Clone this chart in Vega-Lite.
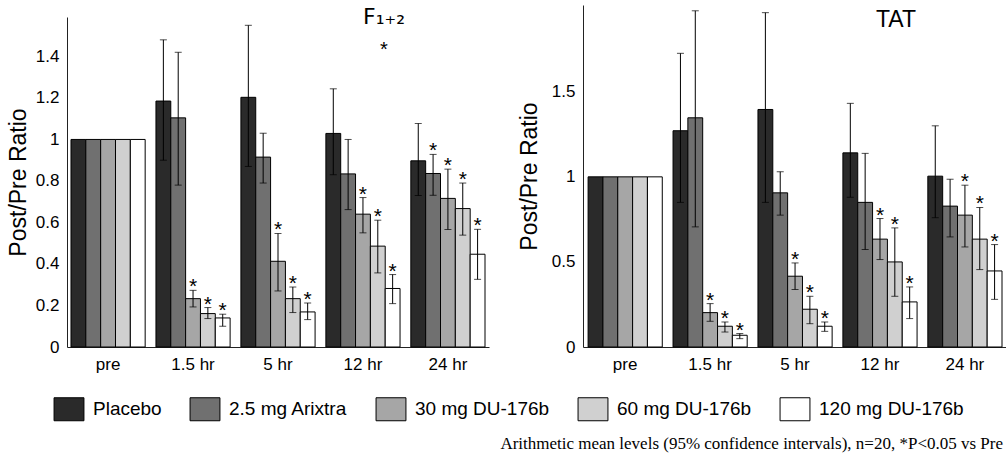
{
  "$schema": "https://vega.github.io/schema/vega-lite/v6.json",
  "padding": {"left": 7, "top": 5, "right": 0, "bottom": 5},
  "config": {
    "view": {"stroke": null},
    "font": "Liberation Sans",
    "axis": {"grid": false, "ticks": false, "domainColor": "#222", "labelColor": "black", "labelFont": "Liberation Sans", "labelFontSize": 17, "titleFont": "Liberation Sans", "titleFontWeight": "normal", "titleColor": "black", "titleFontSize": 23}
  },
  "title": {"text": "Arithmetic mean levels (95% confidence intervals), n=20, *P<0.05 vs Pre", "orient": "bottom", "anchor": "end", "font": "Liberation Serif", "fontSize": 17, "fontWeight": "normal", "color": "black", "offset": 13, "dx": -4},
  "data": {"values": [
    {"p":"F","t":"pre","g":"Placebo","v":1,"lo":null,"hi":null,"s":false},
    {"p":"F","t":"pre","g":"2.5 mg Arixtra","v":1,"lo":null,"hi":null,"s":false},
    {"p":"F","t":"pre","g":"30 mg DU-176b","v":1,"lo":null,"hi":null,"s":false},
    {"p":"F","t":"pre","g":"60 mg DU-176b","v":1,"lo":null,"hi":null,"s":false},
    {"p":"F","t":"pre","g":"120 mg DU-176b","v":1,"lo":null,"hi":null,"s":false},
    {"p":"F","t":"1.5 hr","g":"Placebo","v":1.185,"lo":0.9,"hi":1.48,"s":false},
    {"p":"F","t":"1.5 hr","g":"2.5 mg Arixtra","v":1.104,"lo":0.78,"hi":1.42,"s":false},
    {"p":"F","t":"1.5 hr","g":"30 mg DU-176b","v":0.233,"lo":0.193,"hi":0.273,"s":true},
    {"p":"F","t":"1.5 hr","g":"60 mg DU-176b","v":0.161,"lo":0.137,"hi":0.19,"s":true},
    {"p":"F","t":"1.5 hr","g":"120 mg DU-176b","v":0.14,"lo":0.1,"hi":0.158,"s":true},
    {"p":"F","t":"5 hr","g":"Placebo","v":1.203,"lo":0.87,"hi":1.55,"s":false},
    {"p":"F","t":"5 hr","g":"2.5 mg Arixtra","v":0.915,"lo":0.79,"hi":1.03,"s":false},
    {"p":"F","t":"5 hr","g":"30 mg DU-176b","v":0.413,"lo":0.27,"hi":0.547,"s":true},
    {"p":"F","t":"5 hr","g":"60 mg DU-176b","v":0.233,"lo":0.166,"hi":0.289,"s":true},
    {"p":"F","t":"5 hr","g":"120 mg DU-176b","v":0.169,"lo":0.132,"hi":0.212,"s":true},
    {"p":"F","t":"12 hr","g":"Placebo","v":1.029,"lo":0.83,"hi":1.244,"s":false},
    {"p":"F","t":"12 hr","g":"2.5 mg Arixtra","v":0.834,"lo":0.662,"hi":1.0,"s":false},
    {"p":"F","t":"12 hr","g":"30 mg DU-176b","v":0.64,"lo":0.55,"hi":0.72,"s":true},
    {"p":"F","t":"12 hr","g":"60 mg DU-176b","v":0.486,"lo":0.357,"hi":0.611,"s":true},
    {"p":"F","t":"12 hr","g":"120 mg DU-176b","v":0.282,"lo":0.209,"hi":0.349,"s":true},
    {"p":"F","t":"24 hr","g":"Placebo","v":0.897,"lo":0.73,"hi":1.077,"s":false},
    {"p":"F","t":"24 hr","g":"2.5 mg Arixtra","v":0.836,"lo":0.731,"hi":0.928,"s":true},
    {"p":"F","t":"24 hr","g":"30 mg DU-176b","v":0.716,"lo":0.566,"hi":0.857,"s":true},
    {"p":"F","t":"24 hr","g":"60 mg DU-176b","v":0.667,"lo":0.539,"hi":0.79,"s":true},
    {"p":"F","t":"24 hr","g":"120 mg DU-176b","v":0.447,"lo":0.326,"hi":0.567,"s":true},
    {"p":"T","t":"pre","g":"Placebo","v":1,"lo":null,"hi":null,"s":false},
    {"p":"T","t":"pre","g":"2.5 mg Arixtra","v":1,"lo":null,"hi":null,"s":false},
    {"p":"T","t":"pre","g":"30 mg DU-176b","v":1,"lo":null,"hi":null,"s":false},
    {"p":"T","t":"pre","g":"60 mg DU-176b","v":1,"lo":null,"hi":null,"s":false},
    {"p":"T","t":"pre","g":"120 mg DU-176b","v":1,"lo":null,"hi":null,"s":false},
    {"p":"T","t":"1.5 hr","g":"Placebo","v":1.271,"lo":0.85,"hi":1.726,"s":false},
    {"p":"T","t":"1.5 hr","g":"2.5 mg Arixtra","v":1.347,"lo":0.706,"hi":1.976,"s":false},
    {"p":"T","t":"1.5 hr","g":"30 mg DU-176b","v":0.202,"lo":0.151,"hi":0.255,"s":true},
    {"p":"T","t":"1.5 hr","g":"60 mg DU-176b","v":0.122,"lo":0.088,"hi":0.147,"s":true},
    {"p":"T","t":"1.5 hr","g":"120 mg DU-176b","v":0.069,"lo":0.049,"hi":0.079,"s":true},
    {"p":"T","t":"5 hr","g":"Placebo","v":1.396,"lo":0.85,"hi":1.965,"s":false},
    {"p":"T","t":"5 hr","g":"2.5 mg Arixtra","v":0.906,"lo":0.775,"hi":1.03,"s":false},
    {"p":"T","t":"5 hr","g":"30 mg DU-176b","v":0.416,"lo":0.338,"hi":0.494,"s":true},
    {"p":"T","t":"5 hr","g":"60 mg DU-176b","v":0.222,"lo":0.137,"hi":0.298,"s":true},
    {"p":"T","t":"5 hr","g":"120 mg DU-176b","v":0.122,"lo":0.092,"hi":0.147,"s":true},
    {"p":"T","t":"12 hr","g":"Placebo","v":1.141,"lo":0.88,"hi":1.432,"s":false},
    {"p":"T","t":"12 hr","g":"2.5 mg Arixtra","v":0.85,"lo":0.573,"hi":1.138,"s":false},
    {"p":"T","t":"12 hr","g":"30 mg DU-176b","v":0.634,"lo":0.514,"hi":0.755,"s":true},
    {"p":"T","t":"12 hr","g":"60 mg DU-176b","v":0.5,"lo":0.298,"hi":0.7,"s":true},
    {"p":"T","t":"12 hr","g":"120 mg DU-176b","v":0.265,"lo":0.167,"hi":0.353,"s":true},
    {"p":"T","t":"24 hr","g":"Placebo","v":1.004,"lo":0.76,"hi":1.3,"s":false},
    {"p":"T","t":"24 hr","g":"2.5 mg Arixtra","v":0.828,"lo":0.647,"hi":0.986,"s":false},
    {"p":"T","t":"24 hr","g":"30 mg DU-176b","v":0.775,"lo":0.588,"hi":0.951,"s":true},
    {"p":"T","t":"24 hr","g":"60 mg DU-176b","v":0.634,"lo":0.455,"hi":0.82,"s":true},
    {"p":"T","t":"24 hr","g":"120 mg DU-176b","v":0.447,"lo":0.28,"hi":0.602,"s":true}
  ]},
  "hconcat": [
    {
      "width": 422, "height": 342,
      "title": {"text": "F₁₊₂", "subtitle": "*", "anchor": "middle", "dx": 106, "dy": 60, "font": "DejaVu Sans", "fontSize": 22, "fontWeight": "normal", "color": "black", "subtitleFont": "Liberation Sans", "subtitleFontSize": 20, "subtitleColor": "black", "subtitlePadding": 11},
      "transform": [{"filter": "datum.p == 'F'"}],
      "encoding": {
        "x": {"field": "t", "type": "nominal", "sort": ["pre", "1.5 hr", "5 hr", "12 hr", "24 hr"], "title": null, "scale": {"paddingInner": 0.127, "paddingOuter": 0.047}, "axis": {"labelAngle": 0, "labelPadding": 9}},
        "xOffset": {"field": "g", "type": "nominal", "sort": ["Placebo", "2.5 mg Arixtra", "30 mg DU-176b", "60 mg DU-176b", "120 mg DU-176b"], "scale": {"paddingInner": 0, "paddingOuter": 0}}
      },
      "layer": [
        {
          "mark": {"type": "bar", "stroke": "black", "strokeWidth": 1},
          "encoding": {
            "y": {"field": "v", "type": "quantitative", "title": "Post/Pre Ratio", "scale": {"domain": [0, 1.59], "range": [342, 12], "nice": false}, "axis": {"values": [0, 0.2, 0.4, 0.6, 0.8, 1, 1.2, 1.4], "format": "~g", "labelPadding": 8, "titlePadding": 5}},
            "fill": {"field": "g", "type": "nominal", "sort": ["Placebo", "2.5 mg Arixtra", "30 mg DU-176b", "60 mg DU-176b", "120 mg DU-176b"],
              "scale": {"domain": ["Placebo", "2.5 mg Arixtra", "30 mg DU-176b", "60 mg DU-176b", "120 mg DU-176b"], "range": ["#2a2a2a", "#707070", "#a6a6a6", "#d0d0d0", "#ffffff"]},
              "legend": {"orient": "none", "legendX": -10, "legendY": 392, "direction": "horizontal", "columns": 5, "title": null, "symbolType": "M-1.3,-1H1.3V1H-1.3Z", "symbolSize": 529, "symbolStrokeColor": "black", "symbolStrokeWidth": 1, "labelFontSize": 19, "labelFont": "Liberation Sans", "labelColor": "black", "columnPadding": 26, "labelOffset": 12}}
          }
        },
        {
          "transform": [{"filter": "datum.lo != null"}],
          "mark": {"type": "rule", "color": "black", "strokeWidth": 1},
          "encoding": {"y": {"field": "lo", "type": "quantitative", "title": "Post/Pre Ratio"}, "y2": {"field": "hi"}}
        },
        {
          "transform": [{"filter": "datum.lo != null"}],
          "mark": {"type": "tick", "color": "black", "size": 7, "thickness": 1, "orient": "horizontal"},
          "encoding": {"y": {"field": "hi", "type": "quantitative", "title": "Post/Pre Ratio"}}
        },
        {
          "transform": [{"filter": "datum.lo != null"}],
          "mark": {"type": "tick", "color": "black", "size": 7, "thickness": 1, "orient": "horizontal"},
          "encoding": {"y": {"field": "lo", "type": "quantitative", "title": "Post/Pre Ratio"}}
        },
        {
          "transform": [{"filter": "datum.s"}],
          "mark": {"type": "text", "text": "*", "fontSize": 21, "baseline": "alphabetic", "dy": 3, "color": "black", "font": "Liberation Sans"},
          "encoding": {"y": {"field": "hi", "type": "quantitative", "title": "Post/Pre Ratio"}}
        }
      ]
    },
    {
      "width": 424, "height": 342,
      "title": {"text": "TAT", "anchor": "middle", "dx": 101, "dy": 31, "font": "Liberation Sans", "fontSize": 23, "fontWeight": "normal", "color": "black"},
      "transform": [{"filter": "datum.p == 'T'"}],
      "encoding": {
        "x": {"field": "t", "type": "nominal", "sort": ["pre", "1.5 hr", "5 hr", "12 hr", "24 hr"], "title": null, "scale": {"paddingInner": 0.128, "paddingOuter": 0.06}, "axis": {"labelAngle": 0, "labelPadding": 9}},
        "xOffset": {"field": "g", "type": "nominal", "sort": ["Placebo", "2.5 mg Arixtra", "30 mg DU-176b", "60 mg DU-176b", "120 mg DU-176b"], "scale": {"paddingInner": 0, "paddingOuter": 0}}
      },
      "layer": [
        {
          "mark": {"type": "bar", "stroke": "black", "strokeWidth": 1},
          "encoding": {
            "y": {"field": "v", "type": "quantitative", "title": "Post/Pre Ratio", "scale": {"domain": [0, 2.01], "nice": false}, "axis": {"values": [0, 0.5, 1, 1.5], "format": "~g", "labelPadding": 8, "titlePadding": 10}},
            "fill": {"field": "g", "type": "nominal", "sort": ["Placebo", "2.5 mg Arixtra", "30 mg DU-176b", "60 mg DU-176b", "120 mg DU-176b"]}
          }
        },
        {
          "transform": [{"filter": "datum.lo != null"}],
          "mark": {"type": "rule", "color": "black", "strokeWidth": 1},
          "encoding": {"y": {"field": "lo", "type": "quantitative", "title": "Post/Pre Ratio"}, "y2": {"field": "hi"}}
        },
        {
          "transform": [{"filter": "datum.lo != null"}],
          "mark": {"type": "tick", "color": "black", "size": 7, "thickness": 1, "orient": "horizontal"},
          "encoding": {"y": {"field": "hi", "type": "quantitative", "title": "Post/Pre Ratio"}}
        },
        {
          "transform": [{"filter": "datum.lo != null"}],
          "mark": {"type": "tick", "color": "black", "size": 7, "thickness": 1, "orient": "horizontal"},
          "encoding": {"y": {"field": "lo", "type": "quantitative", "title": "Post/Pre Ratio"}}
        },
        {
          "transform": [{"filter": "datum.s"}],
          "mark": {"type": "text", "text": "*", "fontSize": 21, "baseline": "alphabetic", "dy": 3, "color": "black", "font": "Liberation Sans"},
          "encoding": {"y": {"field": "hi", "type": "quantitative", "title": "Post/Pre Ratio"}}
        }
      ]
    }
  ],
  "spacing": 94,
  "bounds": "flush"
}
